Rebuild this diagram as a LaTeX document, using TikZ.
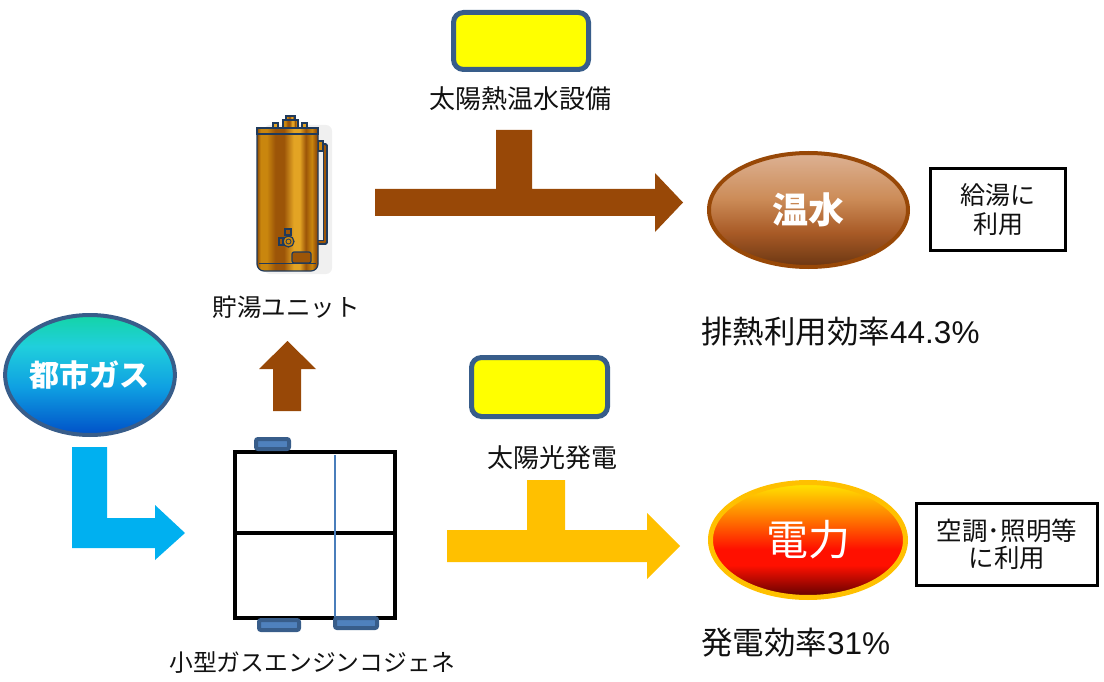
\documentclass[tikz,border=0pt]{standalone}
\usepackage{fontspec}
\newfontfamily\jp{Noto Sans CJK JP}
\newfontfamily\lat{Liberation Sans}
\usetikzlibrary{shapes.geometric}

% palette
\definecolor{heatbrown}{HTML}{984807}
\definecolor{sungold}{HTML}{FFC000}
\definecolor{gascyan}{HTML}{00B0F0}
\definecolor{edgeblue}{HTML}{385D8A}
\definecolor{tabblue}{HTML}{4F81BD}
\definecolor{lineblue}{HTML}{4A7EBB}
\definecolor{panelyellow}{HTML}{FFFF00}
\definecolor{tankdark}{HTML}{1F3A5C}
\definecolor{inktext}{HTML}{111111}
% warm water ellipse
\definecolor{wwA}{HTML}{DDB294}
\definecolor{wwB}{HTML}{CC8C58}
\definecolor{wwC}{HTML}{A85A26}
\definecolor{wwD}{HTML}{6A3612}
% power ellipse
\definecolor{pwA}{HTML}{FFE800}
\definecolor{pwB}{HTML}{FF8C00}
\definecolor{pwC}{HTML}{FF1000}
\definecolor{pwD}{HTML}{5C0000}
% city gas ellipse
\definecolor{gsA}{HTML}{14D4A6}
\definecolor{gsB}{HTML}{20CFDC}
\definecolor{gsC}{HTML}{0FA0E2}
\definecolor{gsD}{HTML}{0050C8}
% tank body stripes
\definecolor{tkA}{HTML}{8B4A05}
\definecolor{tkB}{HTML}{C9860E}
\definecolor{tkC}{HTML}{9C5508}
\definecolor{tkD}{HTML}{E3A424}

\pgfdeclareverticalshading{warmfill}{100bp}{color(0bp)=(wwD); color(25bp)=(wwD); color(40bp)=(wwC); color(55bp)=(wwB); color(75bp)=(wwA); color(100bp)=(wwA)}
\pgfdeclareverticalshading{powerfill}{100bp}{color(0bp)=(pwD); color(25bp)=(pwD); color(39bp)=(pwC); color(46bp)=(pwC); color(62bp)=(pwB); color(75bp)=(pwA); color(100bp)=(pwA)}
\pgfdeclareverticalshading{gasfill}{100bp}{color(0bp)=(gsD); color(25bp)=(gsD); color(45bp)=(gsC); color(62bp)=(gsB); color(75bp)=(gsA); color(100bp)=(gsA)}
\pgfdeclarehorizontalshading{tankfill}{100bp}{color(0bp)=(tkA); color(25bp)=(tkA); color(28bp)=(tkB); color(33bp)=(tkB); color(40bp)=(tkC); color(47bp)=(tkC); color(55bp)=(tkD); color(60bp)=(tkD); color(65bp)=(tkC); color(70bp)=(tkB); color(73bp)=(tkC); color(75bp)=(tkA); color(100bp)=(tkA)}

\tikzset{
  lbl/.style={inner sep=0pt, text=inktext, font=\jp\fontsize{26}{30}\selectfont},
  ratio/.style={lbl, anchor=west, font=\jp\fontsize{31.5}{36}\selectfont},
  panel/.style={draw=edgeblue, line width=5pt, fill=panelyellow, rounded corners=10pt},
  usebox/.style={draw=black, line width=3pt, fill=white, align=center, inner sep=0pt,
    text=inktext, font=\jp\fontsize{25}{29}\selectfont},
  blob/.style={ellipse, inner sep=0pt, text=white},
  tab/.style={draw=edgeblue, fill=tabblue, line width=4pt, rounded corners=2pt},
  outlinepart/.style={draw=tankdark, line width=1.2pt}
}

\begin{document}
\begin{tikzpicture}[x=1pt,y=-1pt]
\useasboundingbox (0,0) rectangle (1104,682);

% ---------- solar thermal panel and hot-water flow ----------
\node[panel, minimum width=135pt, minimum height=57pt] (thermalpanel) at (521,41) {};
\node[lbl] (thermallabel) at (520,99) {太陽熱温水設備};
\fill[heatbrown] (375,189) -- (496,189) -- (496,130) -- (532,130) -- (532,189)
  -- (655,189) -- (655,173) -- (683,202.5) -- (655,232) -- (655,216) -- (375,216) -- cycle;

\node[blob, minimum width=199pt, minimum height=114pt, draw=heatbrown, line width=4pt,
  shading=warmfill, font=\jp\bfseries\fontsize{36}{40}\selectfont] (hotwater) at (808.5,210) {温水};
\node[usebox, minimum width=135pt, minimum height=82pt] (hotuse) at (998,209.5) {給湯に\\利用};
\node[ratio] (heateff) at (701,332) {排熱利用効率{\lat 44.3\%}};

% ---------- storage tank ----------
\fill[gray!12, rounded corners=6pt] (264,125) rectangle (332,274);
\draw[tankdark, line width=5pt, line join=round] (316,146) -- (325,146) -- (325,242) -- (316,242);
\draw[tkC, line width=2.6pt, line join=round] (316,146) -- (325,146) -- (325,242) -- (316,242);
\fill[tkB, outlinepart] (318,141) rectangle (323,151);
\shade[shading=tankfill, outlinepart, rounded corners=7pt] (257,128) -- (257,271) -- (318,271) -- (318,128) -- cycle;
\shade[shading=tankfill, outlinepart] (257,128) rectangle (318,134);
\draw[tankdark, line width=1pt] (259,263) -- (316,263);
\shade[shading=tankfill, outlinepart] (283,120) rectangle (298,128);
\shade[shading=tankfill, outlinepart] (286,116) rectangle (295,120);
\fill[tkD, outlinepart] (273,123) rectangle (278,128);
\fill[tkD, outlinepart] (302,123) rectangle (307,128);
% valve
\fill[tkC, outlinepart] (285,229) rectangle (291,235);
\fill[tkC, outlinepart] (279,238) rectangle (283,245);
\filldraw[fill=tkB, draw=tankdark, line width=1.2pt] (288.5,241.5) circle (5.5pt);
\draw[tankdark, line width=0.8pt] (288.5,241.5) circle (2.5pt);
% access panel
\filldraw[fill=tkC, draw=tankdark, line width=1.2pt, rounded corners=2pt] (292,252) rectangle (311,263);
\node[lbl, font=\jp\fontsize{24.5}{28}\selectfont] (tanklabel) at (286,307) {貯湯ユニット};

% up arrow from the cogeneration unit to the tank
\fill[heatbrown] (273,411) -- (273,369) -- (259,369) -- (287.5,341) -- (316,369) -- (301,369) -- (301,411) -- cycle;

% ---------- city gas ----------
\node[blob, minimum width=150pt, minimum height=120pt, draw=edgeblue, line width=4pt,
  shading=gasfill, font=\jp\bfseries\fontsize{30}{34}\selectfont] (citygas) at (90,375) {都市ガス};
\fill[gascyan] (72,447) -- (107,447) -- (107,518) -- (155,518) -- (155,505) -- (185,533)
  -- (155,560) -- (155,548) -- (72,548) -- cycle;

% ---------- small gas-engine cogeneration unit ----------
\draw[black, line width=4pt] (235,452) rectangle (395,618);
\draw[black, line width=4pt] (235,533) -- (395,533);
\draw[lineblue, line width=2.5pt] (335,455) -- (335,620);
\draw[tab] (256,439) rectangle (289,449);
\draw[tab] (259,620) rectangle (299,630);
\draw[tab] (335,618) rectangle (377,628);
\node[lbl, font=\jp\fontsize{23.8}{28}\selectfont] (cogenlabel) at (312,663) {小型ガスエンジンコジェネ};

% ---------- photovoltaic panel and power flow ----------
\node[panel, minimum width=136pt, minimum height=59pt] (pvpanel) at (539.5,387) {};
\node[lbl] (pvlabel) at (552,458) {太陽光発電};
\fill[sungold] (447,530) -- (527,530) -- (527,480) -- (565,480) -- (565,530) -- (647,530)
  -- (647,513) -- (680,546) -- (647,579) -- (647,562) -- (447,562) -- cycle;

\node[blob, minimum width=195pt, minimum height=115pt, draw=sungold, line width=5pt,
  shading=powerfill, font=\jp\fontsize{42}{46}\selectfont] (power) at (808,540) {電力};
\node[usebox, minimum width=181pt, minimum height=82pt, font=\jp\fontsize{25.5}{27}\selectfont] (poweruse) at (1007,544.5) {空調･照明等\\に利用};
\node[ratio] (powereff) at (701,643) {発電効率{\lat 31\%}};
\end{tikzpicture}
\end{document}
